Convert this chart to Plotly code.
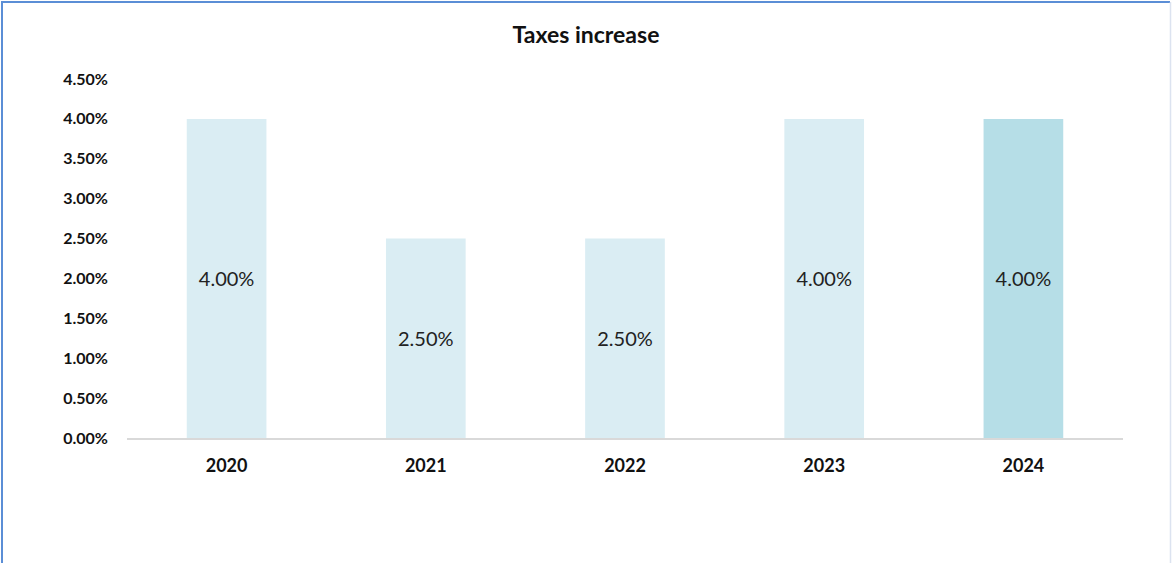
import plotly.graph_objects as go

years = ["2020", "2021", "2022", "2023", "2024"]
rates = [4.00, 2.50, 2.50, 4.00, 4.00]
bar_colors = ["#DAEDF3", "#DAEDF3", "#DAEDF3", "#DAEDF3", "#B6DEE7"]
y_ticks = [0, 0.5, 1, 1.5, 2, 2.5, 3, 3.5, 4, 4.5]

W, H = 1172, 563
ML, MR, MT, MB = 127, 49, 79, 125
PW, PH = W - ML - MR, H - MT - MB
FONT = "Lato, 'Open Sans', sans-serif"


def px_x(p):
    return (p - ML) / PW


def px_y(p):
    return (H - MB - p) / PH


fig = go.Figure(
    go.Bar(
        x=years,
        y=rates,
        marker=dict(color=bar_colors, line=dict(width=0)),
        text=[f"{v:.2f}%" for v in rates],
        textposition="inside",
        insidetextanchor="middle",
        textfont=dict(family=FONT, size=20, color="#222222"),
        hoverinfo="skip",
    )
)

fig.update_layout(
    width=W,
    height=H,
    margin=dict(l=ML, r=MR, t=MT, b=MB),
    paper_bgcolor="white",
    plot_bgcolor="white",
    bargap=0.6,
    showlegend=False,
    title=dict(
        text="<b>Taxes increase</b>",
        x=0.5,
        xref="container",
        y=1 - 35 / H,
        yanchor="middle",
        xanchor="center",
        font=dict(family=FONT, size=23, color="#111111"),
    ),
    xaxis=dict(
        type="category",
        showgrid=False,
        showline=True,
        linecolor="#D9D9D9",
        linewidth=1.5,
        ticks="",
        ticklabelstandoff=11,
        tickfont=dict(family=FONT, size=18, color="#111111", weight="bold"),
    ),
    yaxis=dict(
        range=[0, 4.5],
        tickvals=y_ticks,
        ticktext=[f"{v:.2f}%" for v in y_ticks],
        showgrid=False,
        zeroline=False,
        showline=False,
        ticks="",
        ticklabelstandoff=18,
        tickfont=dict(family=FONT, size=16, color="#111111", weight="bold"),
    ),
    shapes=[
        dict(type="line", xref="paper", yref="paper",
             x0=px_x(2), x1=px_x(2), y0=px_y(2), y1=px_y(H + 5),
             line=dict(color="#5B8ED6", width=2)),
        dict(type="line", xref="paper", yref="paper",
             x0=px_x(1), x1=px_x(W - 2), y0=px_y(2), y1=px_y(2),
             line=dict(color="#5B8ED6", width=2)),
        dict(type="line", xref="paper", yref="paper",
             x0=px_x(W - 1.5), x1=px_x(W - 1.5), y0=px_y(2), y1=px_y(H + 5),
             line=dict(color="#DCE3F0", width=1.5)),
    ],
)

fig.write_html("out.html")
